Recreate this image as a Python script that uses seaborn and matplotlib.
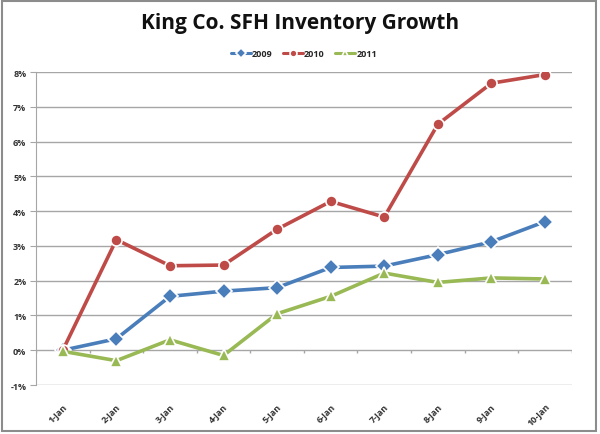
import numpy as np
import pandas as pd
import matplotlib
matplotlib.use('Agg')
import matplotlib.pyplot as plt
from matplotlib.patches import Rectangle
from matplotlib.ticker import FuncFormatter
import seaborn as sns

# dati (in %)
days = ['1-Jan', '2-Jan', '3-Jan', '4-Jan', '5-Jan', '6-Jan', '7-Jan', '8-Jan', '9-Jan', '10-Jan']
inv_2009 = [0.0, 0.33, 1.55, 1.70, 1.80, 2.38, 2.42, 2.75, 3.12, 3.70]
inv_2010 = [0.0, 3.18, 2.43, 2.45, 3.48, 4.28, 3.83, 6.50, 7.68, 7.93]
inv_2011 = [-0.03, -0.30, 0.30, -0.15, 1.05, 1.55, 2.22, 1.95, 2.08, 2.05]
years = ['2009', '2010', '2011']
y_ticks = [-1, 0, 1, 2, 3, 4, 5, 6, 7, 8]

df = pd.DataFrame({
    'Day': days * 3,
    'Pos': list(range(len(days))) * 3,
    'Year': sum([[y] * len(days) for y in years], []),
    'Growth': inv_2009 + inv_2010 + inv_2011,
})

sns.set_style('white')
plt.rcParams['font.family'] = ['Open Sans', 'DejaVu Sans']

colors = {'2009': '#4A7EBB', '2010': '#BE4B48', '2011': '#98B954'}
markers = {'2009': 'D', '2010': 'o', '2011': '^'}

fig = plt.figure(figsize=(6, 4.35), dpi=100)
ax = fig.add_axes([0.06, 0.1126, 0.893, 0.7194])

# griglia
for t in y_ticks:
    ax.axhline(t, color='#A6A6A6', lw=1.0, zorder=0)

# linea dell'asse categorie a 0% con tacche
ax.vlines(np.arange(len(days) + 1) - 0.5, -0.07, 0, color='#A6A6A6', lw=1.0, zorder=0)

sns.lineplot(data=df, x='Pos', y='Growth', hue='Year', style='Year',
             palette=colors, markers=markers, dashes=False, lw=2.6,
             markersize=8, markeredgecolor='white', markeredgewidth=1.2,
             ax=ax, legend=True, zorder=3)

ax.set_xlim(-0.5, len(days) - 0.5)
ax.set_ylim(-1, 8)
ax.set_xticks(range(len(days)))
ax.set_xticklabels(days, rotation=45, ha='right', rotation_mode='anchor',
                   fontsize=6.5, fontweight='bold', color='#333333')
ax.set_yticks(y_ticks)
ax.yaxis.set_major_formatter(FuncFormatter(lambda v, p: '%d%%' % v))
ax.tick_params(axis='y', labelsize=6.5, colors='#333333', length=4, width=0.8, direction='out', left=True, pad=3)
ax.tick_params(axis='x', length=0, pad=12)
for lab in ax.get_yticklabels():
    lab.set_fontweight('bold')
ax.tick_params(axis='y', colors='#A6A6A6', labelcolor='#333333')
ax.set_xlabel('')
ax.set_ylabel('')
for s in ['top', 'right', 'bottom']:
    ax.spines[s].set_visible(False)
ax.spines['left'].set_color('#A6A6A6')

leg = ax.legend(loc='lower center', bbox_to_anchor=(0.5, 1.02), ncol=3, frameon=False,
                fontsize=6.5, handlelength=2.2, handletextpad=0.1, columnspacing=1.2,
                prop={'weight': 'bold', 'size': 6.5})
for h in leg.get_lines():
    h.set_linewidth(2.2)
    h.set_markersize(5)

fig.text(0.5, 0.945, 'King Co. SFH Inventory Growth', ha='center', va='center',
         fontsize=15, fontweight='bold', color='#111111')

# cornice della figura
fig.patches.append(Rectangle((0.004, 0.006), 0.99, 0.99, transform=fig.transFigure,
                             fill=False, edgecolor='#8C8C8C', lw=1.5, zorder=10))

fig.savefig('out.png', dpi=100, facecolor='white')
